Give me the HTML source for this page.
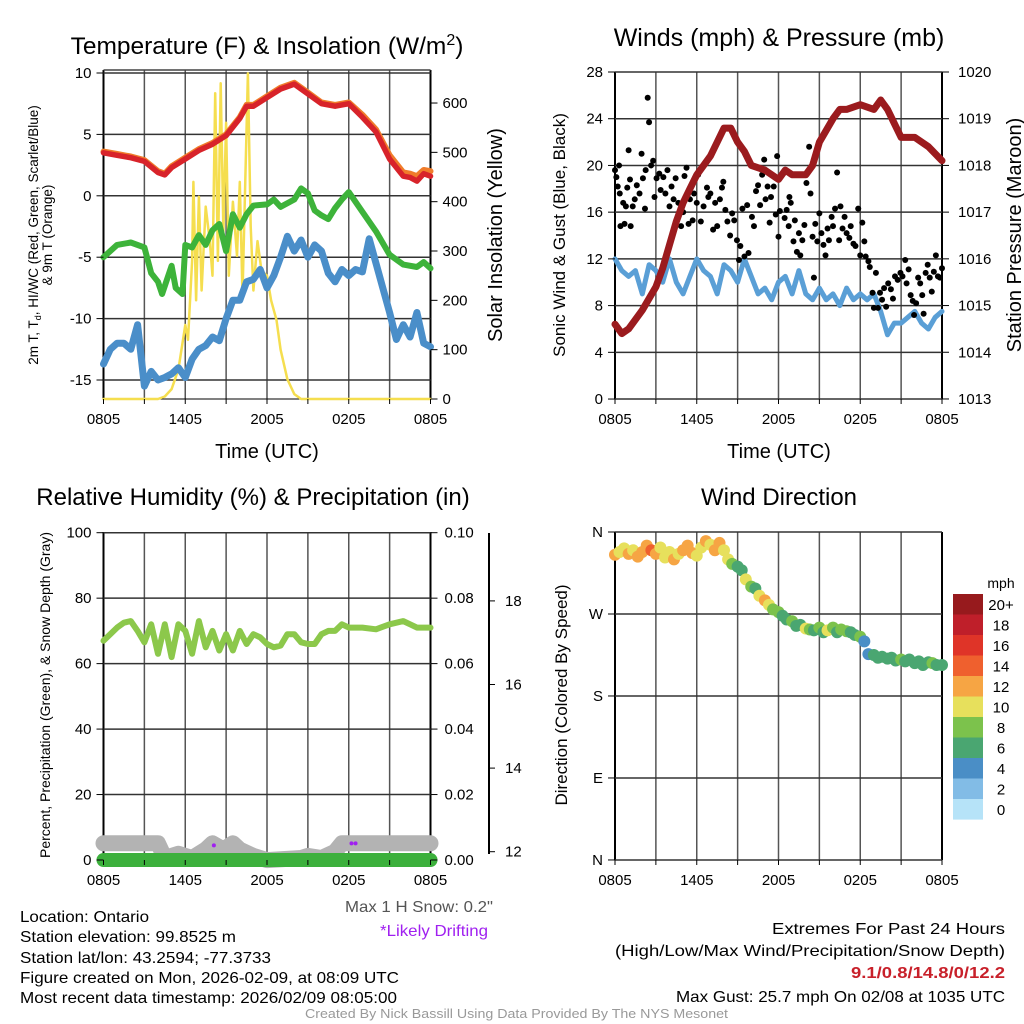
<!DOCTYPE html>
<html><head><meta charset="utf-8"><style>
html,body{margin:0;padding:0;background:#fff;}
svg{display:block;font-family:"Liberation Sans",Arial,sans-serif;}
</style></head><body>
<svg id="chart" width="1024" height="1024" viewBox="0 0 1024 1024">
<rect width="1024" height="1024" fill="#fff"/>
<g id="grids"></g>
<g id="marks"></g>
<g id="axes"></g>
<g id="labels" fill="#000">
<text x="267" y="54" font-size="24.5" text-anchor="middle">Temperature (F) &amp; Insolation (W/m<tspan dy="-9" font-size="16">2</tspan><tspan dy="9">)</tspan></text>
<text x="779" y="46" font-size="25" text-anchor="middle">Winds (mph) &amp; Pressure (mb)</text>
<text x="253" y="505" font-size="24" text-anchor="middle">Relative Humidity (%) &amp; Precipitation (in)</text>
<text x="779" y="505" font-size="24" text-anchor="middle">Wind Direction</text>
<text x="267" y="458" font-size="20" text-anchor="middle">Time (UTC)</text>
<text x="779" y="458" font-size="20" text-anchor="middle">Time (UTC)</text>
<g transform="translate(38,235) rotate(-90)" font-size="13.5" text-anchor="middle"><text x="0" y="0">2m T, T<tspan dy="3" font-size="9">d</tspan><tspan dy="-3">, HI/WC (Red, Green, Scarlet/Blue)</tspan></text><text x="0" y="14">&amp; 9m T (Orange)</text></g>
<text transform="translate(502,235) rotate(-90)" font-size="20" text-anchor="middle">Solar Insolation (Yellow)</text>
<text transform="translate(565,235) rotate(-90)" font-size="17" text-anchor="middle">Sonic Wind &amp; Gust (Blue, Black)</text>
<text transform="translate(1021,235) rotate(-90)" font-size="20" text-anchor="middle">Station Pressure (Maroon)</text>
<text transform="translate(50,695) rotate(-90)" font-size="14" text-anchor="middle">Percent, Precipitation (Green), &amp; Snow Depth (Gray)</text>
<text transform="translate(567,695) rotate(-90)" font-size="17" text-anchor="middle">Direction (Colored By Speed)</text>
<text x="1001" y="588" font-size="14" text-anchor="middle">mph</text>
<text x="345" y="912" font-size="16" fill="#555" textLength="148" lengthAdjust="spacingAndGlyphs">Max 1 H Snow: 0.2"</text>
<text x="380" y="936" font-size="16" fill="#a020f0" textLength="108" lengthAdjust="spacingAndGlyphs">*Likely Drifting</text>
<g font-size="16">
<text x="20" y="922" textLength="129" lengthAdjust="spacingAndGlyphs">Location: Ontario</text>
<text x="20" y="942" textLength="216" lengthAdjust="spacingAndGlyphs">Station elevation: 99.8525 m</text>
<text x="20" y="963" textLength="251" lengthAdjust="spacingAndGlyphs">Station lat/lon: 43.2594; -77.3733</text>
<text x="20" y="983" textLength="379" lengthAdjust="spacingAndGlyphs">Figure created on Mon, 2026-02-09, at 08:09 UTC</text>
<text x="20" y="1003" textLength="377" lengthAdjust="spacingAndGlyphs">Most recent data timestamp: 2026/02/09 08:05:00</text>
</g>
<g font-size="16">
<text x="772" y="934" textLength="233" lengthAdjust="spacingAndGlyphs">Extremes For Past 24 Hours</text>
<text x="615" y="956" textLength="390" lengthAdjust="spacingAndGlyphs">(High/Low/Max Wind/Precipitation/Snow Depth)</text>
<text x="851" y="978" fill="#c8202a" font-weight="bold" textLength="154" lengthAdjust="spacingAndGlyphs">9.1/0.8/14.8/0/12.2</text>
<text x="676" y="1002" textLength="329" lengthAdjust="spacingAndGlyphs">Max Gust: 25.7 mph On 02/08 at 1035 UTC</text>
</g>
<text x="305" y="1018" font-size="13" fill="#999" textLength="423" lengthAdjust="spacingAndGlyphs">Created By Nick Bassill Using Data Provided By The NYS Mesonet</text>
</g>
</svg>
<script>
const xTickLabels = ["0805","1405","2005","0205","0805"];
const tempTicks = [10,5,0,-5,-10,-15];
const insolTicks = [0,100,200,300,400,500,600];
const windTicks = [0,4,8,12,16,20,24,28];
const pressTicks = [1013,1014,1015,1016,1017,1018,1019,1020];
const rhTicks = [0,20,40,60,80,100];
const precipTicks = ["0.00","0.02","0.04","0.06","0.08","0.10"];
const snowTicks = [12,14,16,18];
const dirTickLabels = ["N","W","S","E","N"];
const dirTickValues = [360,270,180,90,0];

const redT = [0,1,2,3,4,4.5,5,6,7,8,9,10,10.5,11,12,13,14,15,16,17,18,19,20,21,22,22.5,23,23.5,24];
const redV = [3.5,3.3,3.1,2.8,1.9,1.7,2.3,3,3.7,4.2,4.9,6.3,7.3,7.3,8,8.7,9.1,8.3,7.5,7.3,7.5,6.4,5.2,3.0,1.6,1.5,1.2,1.8,1.6];
const orangeV = [3.6,3.4,3.2,2.9,2.0,1.8,2.4,3.1,3.8,4.3,5.0,6.4,7.4,7.4,8.1,8.8,9.2,8.4,7.6,7.4,7.6,6.6,5.4,3.3,1.9,1.8,1.6,2.1,2.0];
const greenT = [0,1,2,3,3.5,4,4.3,5,5.3,5.8,6,6.5,7,7.5,8,8.5,9,9.5,10,10.5,11,12,12.5,13,14,14.5,15,15.5,16,16.5,17,17.5,18,19,20,21,22,23,23.5,24];
const greenV = [-5,-4,-3.8,-4.2,-6.3,-7,-8,-5.7,-7.5,-8,-4,-4.2,-3.2,-4,-2.8,-2.3,-4.5,-1.5,-2.6,-1.5,-0.8,-0.7,-0.3,-0.9,-0.3,0.6,0.2,-1.2,-1.6,-1.9,-1,-0.3,0.3,-1.3,-2.9,-4.8,-5.6,-5.8,-5.4,-5.9];
const blueV = [-13.7,-12.5,-12,-12,-12.5,-10.5,-15.5,-14.3,-15,-14.8,-14.5,-14,-14.8,-13.3,-12.5,-12.2,-11.5,-11.8,-10,-8.5,-8.5,-7,-6.8,-6,-7.5,-6.5,-5,-3.3,-4.5,-3.6,-5,-4,-4.5,-6.3,-7,-6,-6.5,-6,-6.2,-3.5,-5.5,-7.5,-9.5,-11.7,-10.5,-11.5,-9.5,-12,-12.3];
const insolT = [0,4,4.5,5,5.5,6,6.2,6.5,6.6,6.8,7,7.2,7.5,7.8,8,8.2,8.4,8.6,8.8,9,9.2,9.5,9.8,10,10.2,10.6,10.8,11,11.3,11.6,12,12.3,12.7,13,13.5,14,14.5,24];
const insolV = [0,0,5,20,60,150,120,280,440,200,410,220,390,320,250,620,280,640,340,560,250,400,290,440,210,660,350,220,320,260,250,200,160,100,40,10,0,0];

const sustV = [12,11,10.5,11,9,11.5,11,10,12,10,9,10.5,12,11,10.5,9,11.5,11,10,12,10.5,9,9.5,8.5,10,10.5,9,11,9,8.5,9.5,8.5,9,8,9.5,8.5,9,8.5,9,7.5,5.5,6.5,6.5,7,7.5,6.5,6,7,7.5];
const pressT = [0,0.5,1,2,3,3.5,4,4.5,5,5.5,6,7,7.5,8,8.5,9,9.5,10,11,12,12.5,13,14,14.5,15,16,16.5,17,18,19,19.5,20,21,22,23,24];
const pressV = [1014.6,1014.4,1014.5,1014.9,1015.4,1015.8,1016.3,1016.8,1017.2,1017.5,1017.8,1018.2,1018.5,1018.8,1018.8,1018.5,1018.3,1018.0,1017.9,1017.7,1017.9,1017.8,1017.8,1018,1018.5,1019,1019.2,1019.2,1019.3,1019.2,1019.4,1019.2,1018.6,1018.6,1018.4,1018.1];
const gustT = [0,0.1,0.3,0.2,0.35,0.4,0.6,0.8,0.9,1,1.1,1.15,0.7,1.3,1.45,1.6,1.8,1.95,2.05,2.2,2.25,2.4,2.5,2.65,2.8,2.9,3.05,3.25,3.35,3.55,3.7,3.85,4,4.15,4.3,4.45,4.65,4.85,5,5.1,5.25,5.4,5.5,5.7,5.8,6,6.1,6.3,6.5,6.6,6.75,6.85,7,7.2,7.35,7.5,7.7,7.85,7.95,8.1,8.25,8.45,8.6,8.75,8.95,9.1,9.2,9.35,9.5,9.7,9.8,10.05,10.2,10.35,10.5,10.65,10.8,10.95,11.05,11.2,11.35,11.45,11.65,11.8,11.9,12,12.1,12.25,12.45,12.6,12.75,12.8,12.9,13.1,13.2,13.35,13.5,13.6,13.75,13.9,14.05,14.25,14.35,14.5,14.6,14.7,14.85,15,15.15,15.3,15.45,15.6,15.7,15.9,16,16.15,16.3,16.45,16.55,16.7,16.85,17,17.2,17.3,17.5,17.65,17.85,18,18.15,18.3,18.4,18.6,18.7,18.9,19,19.15,19.3,19.45,19.6,19.75,19.9,20.05,20.25,20.4,20.55,20.75,20.95,21.1,21.3,21.4,21.55,21.7,21.85,21.95,22.1,22.25,22.4,22.55,22.65,22.8,22.95,23.1,23.25,23.4,23.55,23.7,23.85,24];
const gustV = [19.6,19,20,18.2,17.6,14.8,16.8,16.5,18.1,21.3,18.8,14.8,15,16.5,17.1,18.3,17.6,21,18.9,16.3,19.6,25.8,23.7,20,20.4,17.3,18.9,19.3,17.9,19,17.6,19.6,16.5,18.2,17.1,18.9,16.8,14.8,16,19.1,19.8,15,17.1,15.3,17.6,16.8,19.2,15.2,16.5,20.2,18.1,17.3,17.6,14.5,16.8,14.8,17.1,18.1,18.6,16.2,15.2,14,15.9,15.3,13.6,11.9,13.1,16.3,12.2,16.6,12.5,15.6,14.8,17.8,18.3,16.6,19.2,20.5,17.1,18.2,15.1,17.3,18.2,15.8,20.8,13.9,16.1,19.2,15.5,16.2,14.8,17.3,16.8,13.5,15.3,12.6,14.2,12.3,13.6,14.9,18.5,21.6,17.6,13.9,10.4,15,13.5,15.9,14.2,13.2,12.3,14.6,13.6,15.6,14.8,16.3,19.4,13.6,16.5,14.6,15.6,14.2,13.8,14.8,13.3,13.1,16.3,12.3,15.1,13.5,12.2,11.8,11.3,9.1,7.8,10.8,7.8,9.1,8.5,9.5,7.9,9.9,9.4,8.6,10.5,10.2,10.8,10.5,11.9,9.9,11.1,8.9,8.4,7.2,8.2,10.4,9.9,8.9,7.3,10.8,11.5,10.4,9.2,10.9,12.3,10.5,10.4,11.2];

const rhT = [0,0.5,1,1.5,2,2.5,3,3.5,4,4.5,5,5.5,6,6.5,7,7.5,8,8.5,9,9.5,10,10.5,11,11.5,12,12.5,13,13.5,14,14.5,15,15.5,16,16.5,17,17.5,18,19,20,21,22,22.5,23,24];
const rhV = [67,69,71,72.5,73,70,66.5,72,63,72,62,72,70,63,73,65,70,64,69,64,70,66,69,68,66,65,65.5,69,69,66.5,66,66,69,70,70,72,71,71,70.5,72,73,72,71,71];
const snowT = [0,3,4,4.5,5.5,6.5,7.5,8,8.8,9.5,10,11,12,14.5,15,16,17,17.5,24];
const snowV = [12.2,12.2,12.2,11.85,11.95,11.85,12.05,12.2,12.05,12.2,12.05,11.9,11.8,11.85,11.9,11.85,12.0,12.2,12.2];
const precipT = [0,24];
const precipV = [0,0];
const driftT = [8.1,18.2,18.5];
const driftV = [12.15,12.2,12.2];

const dirT = [0,0.33,0.67,1,1.33,1.67,2,2.33,2.67,3,3.33,3.67,4,4.33,4.67,5,5.33,5.67,6,6.33,6.67,7,7.33,7.67,8,8.3,8.6,9,9.3,9.6,10,10.3,10.6,11,11.3,11.6,12,12.3,12.6,13,13.3,13.6,14,14.3,14.6,15,15.3,15.6,16,16.3,16.6,17,17.3,17.6,18,18.3,18.6,19,19.3,19.6,20,20.3,20.6,21,21.3,21.6,22,22.3,22.6,23,23.3,23.6,24];
const dirV = [335,338,342,336,340,333,338,345,340,336,343,332,338,330,336,340,345,337,334,343,350,346,340,348,340,330,325,322,318,308,300,298,290,285,280,275,272,268,264,262,257,258,254,253,252,255,250,252,255,250,253,251,250,247,245,240,226,225,222,223,221,222,219,220,218,220,216,218,214,217,216,214,214];
const dirS = [12,10,10.5,12.5,10,12,13,12,15,12,11,10,10.5,12,10,12,13,12,10,11,12,10,12,13,11,10,8,7,6,10,9,7,11,12,10,8,9,7,7,8,7,6,10,8,7,8,7,10,8,7,9,8,7,7,9,5,5,6,6,6,7,6,6,9,7,6,6,7,6,7,8,6,7];
const barLabels = ["20+","18","16","14","12","10","8","6","4","2","0"];
const barColors = ["#971a1d","#bf1f2a","#df3428","#ef602e","#f6a544","#e7e05c","#7cc24c","#4aa671","#4a8ec6","#82bce6","#b6e3f8"];

const NS="http://www.w3.org/2000/svg";
const G=document.getElementById('grids'),M=document.getElementById('marks'),A=document.getElementById('axes'),L=document.getElementById('labels');
function mk(tag,parent,at){const e=document.createElementNS(NS,tag);for(const k in at)e.setAttribute(k,at[k]);parent.appendChild(e);return e;}
function line(p,x1,y1,x2,y2,c,w){return mk('line',p,{x1,y1,x2,y2,stroke:c,'stroke-width':w});}
function txt(p,x,y,s,size,anchor){const t=mk('text',L,{x,y,'font-size':size,'text-anchor':anchor});t.textContent=s;return t;}

const panels=[
 {x0:103.5,x1:430.5,top:70,bot:399},
 {x0:615,x1:942,top:72,bot:399},
 {x0:103.5,x1:430.5,top:532,bot:860},
 {x0:615,x1:942,top:532,bot:860}];
function xs(p,t){return p.x0+t*(p.x1-p.x0)/24;}
const P1=panels[0],P2=panels[1],P3=panels[2],P4=panels[3];
const yT=v=>73+(10-v)*12.28, yI=w=>399-w*0.4933;
const yW=v=>72+(28-v)*11.68, yP=p=>72+(1020-p)*46.71;
const yR=v=>532.7+(100-v)*3.273, yS=s=>851.7-(s-12)*41.8;
const yD=d=>532+(360-d)*0.911;

function path(p,T,V,yf,color,w,name){
  let d='';for(let i=0;i<T.length;i++){d+=(i?'L':'M')+xs(p,T[i]).toFixed(1)+','+yf(V[i]).toFixed(1);}
  const e=mk('path',M,{d,fill:'none',stroke:color,'stroke-width':w,'stroke-linejoin':'round','stroke-linecap':'round'});
  
  
  return e;
}
const idx=n=>Array.from({length:n},(_,i)=>i*24/(n-1));

panels.forEach((p,pi)=>{
  for(let k=0;k<=8;k++){
    const x=xs(p,k*3);
    const gl=line(G,x,p.top,x,p.bot,k===0||k===8?'#000':'#555',k===0||k===8?2:1.5);
    
    
    line(A,x,p.bot,x,p.bot+5,'#000',1);
  }
  xTickLabels.forEach((s,i)=>{
    const t=txt(L,xs(p,i*6),p.bot+25,s,15,'middle');
    
    
  });
});
function hgrid(p,y,label){
  const gl=line(G,p.x0,y,p.x1,y,'#333',1.5);
  
  
  line(A,p.x0-7,y,p.x0,y,'#000',1);
  const t=txt(L,p.x0-12,y+5,label,15,'end');
  
  
}
function rtick(p,y,label,offset){
  line(A,p.x1,y,p.x1+7,y,'#000',1);
  const t=txt(L,p.x1+(offset||12),y+5,label,15,'start');
  
  
}
tempTicks.forEach(v=>hgrid(P1,yT(v),String(v)));
line(G,P1.x0,70,P1.x1,70,'#444',1.5);
insolTicks.forEach(v=>rtick(P1,yI(v),String(v)));
line(G,P1.x0,399,P1.x1,399,'#000',1);
windTicks.forEach(v=>hgrid(P2,yW(v),String(v)));
pressTicks.forEach(v=>rtick(P2,yP(v),String(v),16));
rhTicks.forEach(v=>hgrid(P3,yR(v),String(v)));
precipTicks.forEach((s,i)=>rtick(P3,yR(i*20),s,14));
line(A,489,533,489,854,'#000',2);
snowTicks.forEach(v=>{line(A,489,yS(v),495,yS(v),'#000',1);const t=txt(L,505,yS(v)+5,String(v),15,'start');
  
  });
dirTickValues.forEach((v,i)=>hgrid(P4,yD(v),dirTickLabels[i]));

path(P1,insolT,insolV,yI,'#f5de4f',2.5,'insolation-line');
path(P1,redT,orangeV,yT,'#f07c2a',6,'temp-9m-line');
path(P1,redT,redV,yT,'#d8232a',5.5,'temp-2m-line');
path(P1,greenT,greenV,yT,'#3db33a',6,'dewpoint-line');
path(P1,idx(blueV.length),blueV,yT,'#4a8ec9',7,'windchill-line');
path(P2,idx(sustV.length),sustV,yW,'#5a9fd6',5,'sustained-wind-line');
gustT.forEach((t,i)=>{
  const c=mk('circle',M,{cx:xs(P2,t),cy:yW(gustV[i]),r:3,fill:'#000'});
  
  
});
path(P2,pressT,pressV,yP,'#9b1b1e',7,'pressure-line');
path(P3,rhT,rhV,yR,'#8cc84b',6,'humidity-line');
path(P3,snowT,snowV,yS,'#b3b3b3',16,'snow-depth-line');
path(P3,precipT,precipV,yR,'#3cb03c',14,'precipitation-line');
driftT.forEach((t,i)=>{
  const c=mk('circle',M,{cx:xs(P3,t),cy:yS(driftV[i]),r:2,fill:'#a020f0'});
  
  
});
function spdColor(s){let b=Math.min(10,Math.floor(s/2));return barColors[10-b];}
dirT.forEach((t,i)=>{
  const c=mk('circle',M,{cx:xs(P4,t),cy:yD(dirV[i]),r:6,fill:spdColor(dirS[i])});
  
  
});
barColors.forEach((c,i)=>{
  const y=594+i*20.5;
  const r=mk('rect',M,{x:953,y:y,width:30,height:20.6,fill:c});
  
  
  const t=txt(L,1001,y+16,barLabels[i],15,'middle');
  
  
});
</script>
</body></html>
